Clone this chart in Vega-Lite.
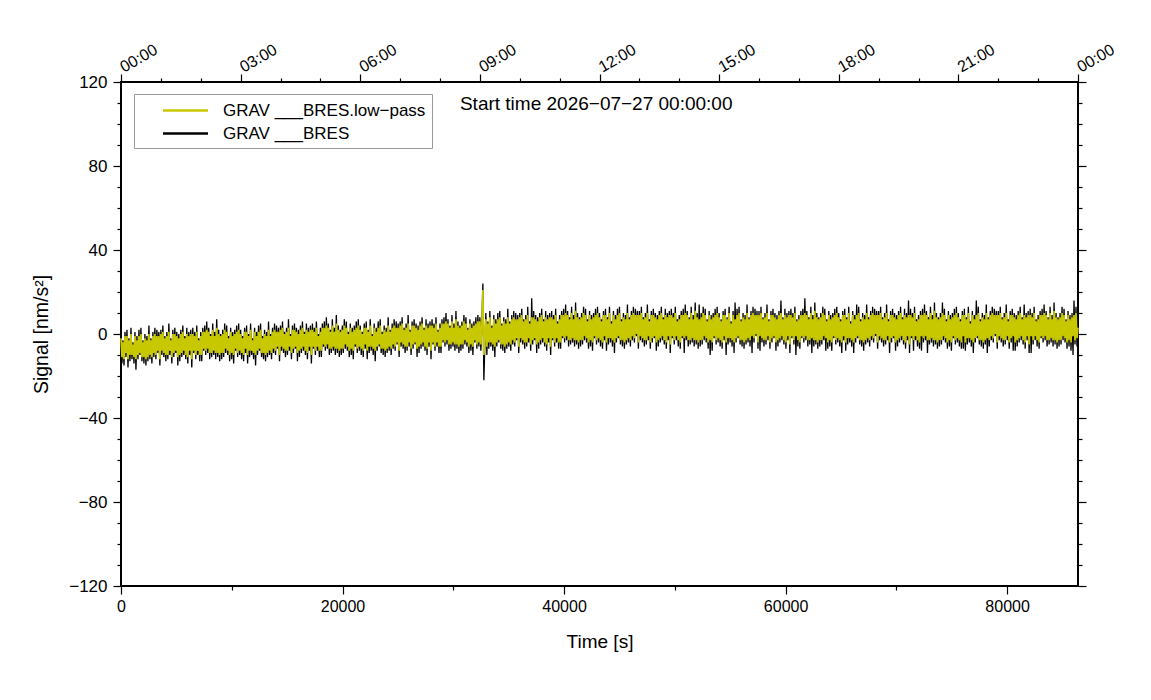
{
  "$schema": "https://vega.github.io/schema/vega-lite/v6.json",
  "width": 957,
  "height": 504,
  "autosize": {"type": "none"},
  "padding": {"left": 121, "top": 82, "right": 73, "bottom": 114},
  "background": "white",
  "config": {
    "font": "Liberation Sans",
    "view": {"stroke": "#000000", "strokeWidth": 2},
    "axis": {
      "grid": false,
      "domain": false,
      "tickColor": "#000000",
      "tickWidth": 1.2,
      "labelColor": "#000000",
      "titleColor": "#000000",
      "labelFont": "Liberation Sans",
      "titleFont": "Liberation Sans",
      "labelFontSize": 16,
      "titleFontSize": 19,
      "titleFontWeight": "normal"
    }
  },
  "datasets": {
    "grav": [
{"t":0,"raw":0,"lp":-2},{"t":90,"raw":-14,"lp":-11},{"t":180,"raw":-3,"lp":-4},{"t":270,"raw":-15,"lp":-12},{"t":360,"raw":1,"lp":-1},{"t":450,"raw":-11,"lp":-9},{"t":540,"raw":2,"lp":-1},{"t":630,"raw":-16,"lp":-12},{"t":720,"raw":-2,"lp":-3},{"t":810,"raw":-13,"lp":-10},{"t":900,"raw":3,"lp":0},{"t":990,"raw":-12,"lp":-10},{"t":1080,"raw":-4,"lp":-5},{"t":1170,"raw":-14,"lp":-11},{"t":1260,"raw":1,"lp":-1},{"t":1350,"raw":-17,"lp":-12},{"t":1440,"raw":-1,"lp":-3},{"t":1530,"raw":-12,"lp":-10},{"t":1620,"raw":2,"lp":-1},{"t":1710,"raw":-10,"lp":-9},{"t":1800,"raw":3,"lp":0},{"t":1890,"raw":-13,"lp":-11},{"t":1980,"raw":-3,"lp":-4},{"t":2070,"raw":-14,"lp":-11},{"t":2160,"raw":0,"lp":-2},{"t":2250,"raw":-15,"lp":-12},{"t":2340,"raw":-1,"lp":-3},{"t":2430,"raw":-13,"lp":-11},{"t":2520,"raw":4,"lp":0},{"t":2610,"raw":-12,"lp":-10},{"t":2700,"raw":-2,"lp":-3},{"t":2790,"raw":-14,"lp":-11},{"t":2880,"raw":1,"lp":-1},{"t":2970,"raw":-11,"lp":-9},{"t":3060,"raw":3,"lp":0},{"t":3150,"raw":-12,"lp":-10},{"t":3240,"raw":2,"lp":-1},{"t":3330,"raw":-9,"lp":-8},{"t":3420,"raw":1,"lp":-1},{"t":3510,"raw":-15,"lp":-12},
{"t":3600,"raw":2,"lp":0},{"t":3690,"raw":-10,"lp":-8},{"t":3780,"raw":4,"lp":1},{"t":3870,"raw":-11,"lp":-9},{"t":3960,"raw":-1,"lp":-2},{"t":4050,"raw":-13,"lp":-10},{"t":4140,"raw":1,"lp":-1},{"t":4230,"raw":-12,"lp":-10},{"t":4320,"raw":5,"lp":1},{"t":4410,"raw":-10,"lp":-8},{"t":4500,"raw":-2,"lp":-3},{"t":4590,"raw":-14,"lp":-11},{"t":4680,"raw":2,"lp":0},{"t":4770,"raw":-11,"lp":-9},{"t":4860,"raw":3,"lp":0},{"t":4950,"raw":-9,"lp":-8},{"t":5040,"raw":1,"lp":-1},{"t":5130,"raw":-15,"lp":-11},{"t":5220,"raw":0,"lp":-2},{"t":5310,"raw":-13,"lp":-10},{"t":5400,"raw":2,"lp":0},{"t":5490,"raw":-11,"lp":-9},{"t":5580,"raw":4,"lp":1},{"t":5670,"raw":-10,"lp":-8},{"t":5760,"raw":-1,"lp":-2},{"t":5850,"raw":-12,"lp":-10},{"t":5940,"raw":3,"lp":0},{"t":6030,"raw":-14,"lp":-11},{"t":6120,"raw":1,"lp":-1},{"t":6210,"raw":-10,"lp":-8},{"t":6300,"raw":2,"lp":0},{"t":6390,"raw":-16,"lp":-12},{"t":6480,"raw":3,"lp":0},{"t":6570,"raw":-9,"lp":-8},{"t":6660,"raw":1,"lp":-1},{"t":6750,"raw":-12,"lp":-10},{"t":6840,"raw":4,"lp":1},{"t":6930,"raw":-10,"lp":-8},{"t":7020,"raw":-2,"lp":-3},{"t":7110,"raw":-13,"lp":-10},
{"t":7200,"raw":1,"lp":-1},{"t":7290,"raw":-13,"lp":-10},{"t":7380,"raw":3,"lp":1},{"t":7470,"raw":-8,"lp":-7},{"t":7560,"raw":4,"lp":1},{"t":7650,"raw":-10,"lp":-8},{"t":7740,"raw":6,"lp":2},{"t":7830,"raw":-9,"lp":-7},{"t":7920,"raw":3,"lp":1},{"t":8010,"raw":-12,"lp":-9},{"t":8100,"raw":0,"lp":-1},{"t":8190,"raw":-11,"lp":-9},{"t":8280,"raw":5,"lp":2},{"t":8370,"raw":-10,"lp":-8},{"t":8460,"raw":1,"lp":-1},{"t":8550,"raw":-12,"lp":-9},{"t":8640,"raw":7,"lp":3},{"t":8730,"raw":-11,"lp":-9},{"t":8820,"raw":2,"lp":0},{"t":8910,"raw":-13,"lp":-10},{"t":9000,"raw":0,"lp":-1},{"t":9090,"raw":-12,"lp":-9},{"t":9180,"raw":2,"lp":0},{"t":9270,"raw":-11,"lp":-9},{"t":9360,"raw":5,"lp":2},{"t":9450,"raw":-9,"lp":-7},{"t":9540,"raw":4,"lp":1},{"t":9630,"raw":-10,"lp":-8},{"t":9720,"raw":-1,"lp":-2},{"t":9810,"raw":-13,"lp":-10},{"t":9900,"raw":3,"lp":1},{"t":9990,"raw":-12,"lp":-9},{"t":10080,"raw":1,"lp":-1},{"t":10170,"raw":-14,"lp":-10},{"t":10260,"raw":2,"lp":0},{"t":10350,"raw":-8,"lp":-7},{"t":10440,"raw":4,"lp":1},{"t":10530,"raw":-11,"lp":-9},{"t":10620,"raw":5,"lp":2},{"t":10710,"raw":-10,"lp":-8},
{"t":10800,"raw":2,"lp":0},{"t":10890,"raw":-12,"lp":-9},{"t":10980,"raw":-1,"lp":-2},{"t":11070,"raw":-13,"lp":-10},{"t":11160,"raw":3,"lp":1},{"t":11250,"raw":-9,"lp":-7},{"t":11340,"raw":4,"lp":1},{"t":11430,"raw":-14,"lp":-10},{"t":11520,"raw":0,"lp":-1},{"t":11610,"raw":-11,"lp":-8},{"t":11700,"raw":5,"lp":2},{"t":11790,"raw":-10,"lp":-8},{"t":11880,"raw":-2,"lp":-3},{"t":11970,"raw":-12,"lp":-9},{"t":12060,"raw":3,"lp":1},{"t":12150,"raw":-15,"lp":-10},{"t":12240,"raw":1,"lp":-1},{"t":12330,"raw":-10,"lp":-8},{"t":12420,"raw":4,"lp":1},{"t":12510,"raw":-8,"lp":-7},{"t":12600,"raw":5,"lp":2},{"t":12690,"raw":-11,"lp":-9},{"t":12780,"raw":-1,"lp":-2},{"t":12870,"raw":-12,"lp":-9},{"t":12960,"raw":2,"lp":0},{"t":13050,"raw":-13,"lp":-10},{"t":13140,"raw":1,"lp":-1},{"t":13230,"raw":-11,"lp":-9},{"t":13320,"raw":6,"lp":2},{"t":13410,"raw":-10,"lp":-8},{"t":13500,"raw":0,"lp":-1},{"t":13590,"raw":-12,"lp":-9},{"t":13680,"raw":3,"lp":1},{"t":13770,"raw":-9,"lp":-7},{"t":13860,"raw":5,"lp":2},{"t":13950,"raw":-10,"lp":-8},{"t":14040,"raw":4,"lp":1},{"t":14130,"raw":-7,"lp":-6},{"t":14220,"raw":3,"lp":1},{"t":14310,"raw":-13,"lp":-10},
{"t":14400,"raw":4,"lp":2},{"t":14490,"raw":-8,"lp":-6},{"t":14580,"raw":6,"lp":3},{"t":14670,"raw":-9,"lp":-7},{"t":14760,"raw":1,"lp":0},{"t":14850,"raw":-11,"lp":-8},{"t":14940,"raw":3,"lp":1},{"t":15030,"raw":-10,"lp":-8},{"t":15120,"raw":7,"lp":3},{"t":15210,"raw":-8,"lp":-6},{"t":15300,"raw":0,"lp":-1},{"t":15390,"raw":-12,"lp":-9},{"t":15480,"raw":4,"lp":2},{"t":15570,"raw":-9,"lp":-7},{"t":15660,"raw":5,"lp":2},{"t":15750,"raw":-7,"lp":-6},{"t":15840,"raw":3,"lp":1},{"t":15930,"raw":-13,"lp":-9},{"t":16020,"raw":2,"lp":0},{"t":16110,"raw":-11,"lp":-8},{"t":16200,"raw":4,"lp":2},{"t":16290,"raw":-9,"lp":-7},{"t":16380,"raw":6,"lp":3},{"t":16470,"raw":-8,"lp":-6},{"t":16560,"raw":1,"lp":0},{"t":16650,"raw":-10,"lp":-8},{"t":16740,"raw":5,"lp":2},{"t":16830,"raw":-12,"lp":-9},{"t":16920,"raw":3,"lp":1},{"t":17010,"raw":-8,"lp":-6},{"t":17100,"raw":4,"lp":2},{"t":17190,"raw":-14,"lp":-10},{"t":17280,"raw":5,"lp":2},{"t":17370,"raw":-7,"lp":-6},{"t":17460,"raw":3,"lp":1},{"t":17550,"raw":-10,"lp":-8},{"t":17640,"raw":6,"lp":3},{"t":17730,"raw":-8,"lp":-6},{"t":17820,"raw":0,"lp":-1},{"t":17910,"raw":-11,"lp":-8},
{"t":18000,"raw":3,"lp":1},{"t":18090,"raw":-11,"lp":-8},{"t":18180,"raw":5,"lp":3},{"t":18270,"raw":-6,"lp":-5},{"t":18360,"raw":6,"lp":3},{"t":18450,"raw":-8,"lp":-6},{"t":18540,"raw":8,"lp":4},{"t":18630,"raw":-7,"lp":-5},{"t":18720,"raw":5,"lp":3},{"t":18810,"raw":-10,"lp":-7},{"t":18900,"raw":2,"lp":1},{"t":18990,"raw":-9,"lp":-7},{"t":19080,"raw":7,"lp":4},{"t":19170,"raw":-8,"lp":-6},{"t":19260,"raw":3,"lp":1},{"t":19350,"raw":-10,"lp":-7},{"t":19440,"raw":9,"lp":5},{"t":19530,"raw":-9,"lp":-7},{"t":19620,"raw":4,"lp":2},{"t":19710,"raw":-11,"lp":-8},{"t":19800,"raw":2,"lp":1},{"t":19890,"raw":-10,"lp":-7},{"t":19980,"raw":4,"lp":2},{"t":20070,"raw":-9,"lp":-7},{"t":20160,"raw":7,"lp":4},{"t":20250,"raw":-7,"lp":-5},{"t":20340,"raw":6,"lp":3},{"t":20430,"raw":-8,"lp":-6},{"t":20520,"raw":1,"lp":0},{"t":20610,"raw":-11,"lp":-8},{"t":20700,"raw":5,"lp":3},{"t":20790,"raw":-10,"lp":-7},{"t":20880,"raw":3,"lp":1},{"t":20970,"raw":-12,"lp":-8},{"t":21060,"raw":4,"lp":2},{"t":21150,"raw":-6,"lp":-5},{"t":21240,"raw":6,"lp":3},{"t":21330,"raw":-9,"lp":-7},{"t":21420,"raw":7,"lp":4},{"t":21510,"raw":-8,"lp":-6},
{"t":21600,"raw":4,"lp":2},{"t":21690,"raw":-10,"lp":-7},{"t":21780,"raw":1,"lp":0},{"t":21870,"raw":-11,"lp":-8},{"t":21960,"raw":5,"lp":3},{"t":22050,"raw":-7,"lp":-5},{"t":22140,"raw":6,"lp":3},{"t":22230,"raw":-12,"lp":-8},{"t":22320,"raw":2,"lp":1},{"t":22410,"raw":-9,"lp":-6},{"t":22500,"raw":7,"lp":4},{"t":22590,"raw":-8,"lp":-6},{"t":22680,"raw":0,"lp":-1},{"t":22770,"raw":-10,"lp":-7},{"t":22860,"raw":5,"lp":3},{"t":22950,"raw":-13,"lp":-8},{"t":23040,"raw":3,"lp":1},{"t":23130,"raw":-8,"lp":-6},{"t":23220,"raw":6,"lp":3},{"t":23310,"raw":-6,"lp":-5},{"t":23400,"raw":7,"lp":4},{"t":23490,"raw":-9,"lp":-7},{"t":23580,"raw":1,"lp":0},{"t":23670,"raw":-10,"lp":-7},{"t":23760,"raw":4,"lp":2},{"t":23850,"raw":-11,"lp":-8},{"t":23940,"raw":3,"lp":1},{"t":24030,"raw":-9,"lp":-7},{"t":24120,"raw":8,"lp":4},{"t":24210,"raw":-8,"lp":-6},{"t":24300,"raw":2,"lp":1},{"t":24390,"raw":-10,"lp":-7},{"t":24480,"raw":5,"lp":3},{"t":24570,"raw":-7,"lp":-5},{"t":24660,"raw":7,"lp":4},{"t":24750,"raw":-8,"lp":-6},{"t":24840,"raw":6,"lp":3},{"t":24930,"raw":-5,"lp":-4},{"t":25020,"raw":5,"lp":3},{"t":25110,"raw":-11,"lp":-8},
{"t":25200,"raw":6,"lp":4},{"t":25290,"raw":-6,"lp":-4},{"t":25380,"raw":8,"lp":5},{"t":25470,"raw":-7,"lp":-5},{"t":25560,"raw":3,"lp":2},{"t":25650,"raw":-9,"lp":-6},{"t":25740,"raw":5,"lp":3},{"t":25830,"raw":-8,"lp":-6},{"t":25920,"raw":9,"lp":5},{"t":26010,"raw":-6,"lp":-4},{"t":26100,"raw":2,"lp":1},{"t":26190,"raw":-10,"lp":-7},{"t":26280,"raw":6,"lp":4},{"t":26370,"raw":-7,"lp":-5},{"t":26460,"raw":7,"lp":4},{"t":26550,"raw":-5,"lp":-4},{"t":26640,"raw":5,"lp":3},{"t":26730,"raw":-11,"lp":-7},{"t":26820,"raw":4,"lp":2},{"t":26910,"raw":-9,"lp":-6},{"t":27000,"raw":6,"lp":4},{"t":27090,"raw":-7,"lp":-5},{"t":27180,"raw":8,"lp":5},{"t":27270,"raw":-6,"lp":-4},{"t":27360,"raw":3,"lp":2},{"t":27450,"raw":-8,"lp":-6},{"t":27540,"raw":7,"lp":4},{"t":27630,"raw":-10,"lp":-7},{"t":27720,"raw":5,"lp":3},{"t":27810,"raw":-6,"lp":-4},{"t":27900,"raw":6,"lp":4},{"t":27990,"raw":-12,"lp":-8},{"t":28080,"raw":7,"lp":4},{"t":28170,"raw":-5,"lp":-4},{"t":28260,"raw":5,"lp":3},{"t":28350,"raw":-8,"lp":-6},{"t":28440,"raw":8,"lp":5},{"t":28530,"raw":-6,"lp":-4},{"t":28620,"raw":2,"lp":1},{"t":28710,"raw":-9,"lp":-6},
{"t":28800,"raw":5,"lp":3},{"t":28890,"raw":-9,"lp":-6},{"t":28980,"raw":7,"lp":5},{"t":29070,"raw":-4,"lp":-3},{"t":29160,"raw":8,"lp":5},{"t":29250,"raw":-6,"lp":-4},{"t":29340,"raw":10,"lp":6},{"t":29430,"raw":-5,"lp":-3},{"t":29520,"raw":7,"lp":5},{"t":29610,"raw":-8,"lp":-5},{"t":29700,"raw":4,"lp":3},{"t":29790,"raw":-7,"lp":-5},{"t":29880,"raw":9,"lp":6},{"t":29970,"raw":-6,"lp":-4},{"t":30060,"raw":5,"lp":3},{"t":30150,"raw":-8,"lp":-5},{"t":30240,"raw":11,"lp":7},{"t":30330,"raw":-7,"lp":-5},{"t":30420,"raw":6,"lp":4},{"t":30510,"raw":-9,"lp":-6},{"t":30600,"raw":4,"lp":3},{"t":30690,"raw":-8,"lp":-5},{"t":30780,"raw":6,"lp":4},{"t":30870,"raw":-7,"lp":-5},{"t":30960,"raw":9,"lp":6},{"t":31050,"raw":-5,"lp":-3},{"t":31140,"raw":8,"lp":5},{"t":31230,"raw":-6,"lp":-4},{"t":31320,"raw":3,"lp":2},{"t":31410,"raw":-9,"lp":-6},{"t":31500,"raw":7,"lp":5},{"t":31590,"raw":-8,"lp":-5},{"t":31680,"raw":5,"lp":3},{"t":31770,"raw":-10,"lp":-6},{"t":31860,"raw":6,"lp":4},{"t":31950,"raw":-4,"lp":-3},{"t":32040,"raw":8,"lp":5},{"t":32130,"raw":-7,"lp":-5},{"t":32220,"raw":9,"lp":6},{"t":32310,"raw":-6,"lp":-4},
{"t":32400,"raw":8,"lp":6},{"t":32490,"raw":-8,"lp":-5},{"t":32580,"raw":5,"lp":4},{"t":32670,"raw":24,"lp":21},{"t":32760,"raw":-22,"lp":-10},{"t":32850,"raw":-5,"lp":-3},{"t":32940,"raw":10,"lp":7},{"t":33030,"raw":-10,"lp":-6},{"t":33120,"raw":6,"lp":5},{"t":33210,"raw":-7,"lp":-4},{"t":33300,"raw":11,"lp":8},{"t":33390,"raw":-6,"lp":-4},{"t":33480,"raw":4,"lp":3},{"t":33570,"raw":-8,"lp":-5},{"t":33660,"raw":9,"lp":7},{"t":33750,"raw":-11,"lp":-6},{"t":33840,"raw":7,"lp":5},{"t":33930,"raw":-6,"lp":-4},{"t":34020,"raw":10,"lp":7},{"t":34110,"raw":-4,"lp":-3},{"t":34200,"raw":11,"lp":8},{"t":34290,"raw":-7,"lp":-5},{"t":34380,"raw":5,"lp":4},{"t":34470,"raw":-8,"lp":-5},{"t":34560,"raw":8,"lp":6},{"t":34650,"raw":-9,"lp":-6},{"t":34740,"raw":7,"lp":5},{"t":34830,"raw":-7,"lp":-5},{"t":34920,"raw":12,"lp":8},{"t":35010,"raw":-6,"lp":-4},{"t":35100,"raw":6,"lp":5},{"t":35190,"raw":-8,"lp":-5},{"t":35280,"raw":9,"lp":7},{"t":35370,"raw":-5,"lp":-3},{"t":35460,"raw":11,"lp":8},{"t":35550,"raw":-6,"lp":-4},{"t":35640,"raw":10,"lp":7},{"t":35730,"raw":-3,"lp":-2},{"t":35820,"raw":9,"lp":7},{"t":35910,"raw":-9,"lp":-6},
{"t":36000,"raw":10,"lp":8},{"t":36090,"raw":-4,"lp":-2},{"t":36180,"raw":12,"lp":9},{"t":36270,"raw":-5,"lp":-3},{"t":36360,"raw":7,"lp":6},{"t":36450,"raw":-7,"lp":-4},{"t":36540,"raw":9,"lp":7},{"t":36630,"raw":-6,"lp":-4},{"t":36720,"raw":13,"lp":9},{"t":36810,"raw":-4,"lp":-2},{"t":36900,"raw":6,"lp":5},{"t":36990,"raw":-8,"lp":-5},{"t":37080,"raw":17,"lp":8},{"t":37170,"raw":-5,"lp":-3},{"t":37260,"raw":11,"lp":8},{"t":37350,"raw":-3,"lp":-2},{"t":37440,"raw":9,"lp":7},{"t":37530,"raw":-9,"lp":-5},{"t":37620,"raw":8,"lp":6},{"t":37710,"raw":-7,"lp":-4},{"t":37800,"raw":10,"lp":8},{"t":37890,"raw":-5,"lp":-3},{"t":37980,"raw":12,"lp":9},{"t":38070,"raw":-4,"lp":-2},{"t":38160,"raw":7,"lp":6},{"t":38250,"raw":-6,"lp":-4},{"t":38340,"raw":11,"lp":8},{"t":38430,"raw":-8,"lp":-5},{"t":38520,"raw":9,"lp":7},{"t":38610,"raw":-4,"lp":-2},{"t":38700,"raw":10,"lp":8},{"t":38790,"raw":-10,"lp":-6},{"t":38880,"raw":11,"lp":8},{"t":38970,"raw":-3,"lp":-2},{"t":39060,"raw":9,"lp":7},{"t":39150,"raw":-6,"lp":-4},{"t":39240,"raw":12,"lp":9},{"t":39330,"raw":-4,"lp":-2},{"t":39420,"raw":6,"lp":5},{"t":39510,"raw":-7,"lp":-4},
{"t":39600,"raw":9,"lp":7},{"t":39690,"raw":-7,"lp":-4},{"t":39780,"raw":11,"lp":9},{"t":39870,"raw":-2,"lp":-1},{"t":39960,"raw":12,"lp":9},{"t":40050,"raw":-4,"lp":-2},{"t":40140,"raw":14,"lp":10},{"t":40230,"raw":-3,"lp":-1},{"t":40320,"raw":11,"lp":9},{"t":40410,"raw":-6,"lp":-3},{"t":40500,"raw":8,"lp":7},{"t":40590,"raw":-5,"lp":-3},{"t":40680,"raw":13,"lp":10},{"t":40770,"raw":-4,"lp":-2},{"t":40860,"raw":9,"lp":7},{"t":40950,"raw":-6,"lp":-3},{"t":41040,"raw":15,"lp":11},{"t":41130,"raw":-5,"lp":-3},{"t":41220,"raw":10,"lp":8},{"t":41310,"raw":-7,"lp":-4},{"t":41400,"raw":8,"lp":7},{"t":41490,"raw":-6,"lp":-3},{"t":41580,"raw":10,"lp":8},{"t":41670,"raw":-5,"lp":-3},{"t":41760,"raw":13,"lp":10},{"t":41850,"raw":-3,"lp":-1},{"t":41940,"raw":12,"lp":9},{"t":42030,"raw":-4,"lp":-2},{"t":42120,"raw":7,"lp":6},{"t":42210,"raw":-7,"lp":-4},{"t":42300,"raw":11,"lp":9},{"t":42390,"raw":-6,"lp":-3},{"t":42480,"raw":9,"lp":7},{"t":42570,"raw":-8,"lp":-4},{"t":42660,"raw":10,"lp":8},{"t":42750,"raw":-2,"lp":-1},{"t":42840,"raw":12,"lp":9},{"t":42930,"raw":-5,"lp":-3},{"t":43020,"raw":13,"lp":10},{"t":43110,"raw":-4,"lp":-2},
{"t":43200,"raw":10,"lp":8},{"t":43290,"raw":-6,"lp":-3},{"t":43380,"raw":7,"lp":6},{"t":43470,"raw":-7,"lp":-4},{"t":43560,"raw":11,"lp":9},{"t":43650,"raw":-3,"lp":-1},{"t":43740,"raw":12,"lp":9},{"t":43830,"raw":-8,"lp":-4},{"t":43920,"raw":8,"lp":7},{"t":44010,"raw":-5,"lp":-2},{"t":44100,"raw":13,"lp":10},{"t":44190,"raw":-4,"lp":-2},{"t":44280,"raw":6,"lp":5},{"t":44370,"raw":-6,"lp":-3},{"t":44460,"raw":11,"lp":9},{"t":44550,"raw":-9,"lp":-4},{"t":44640,"raw":9,"lp":7},{"t":44730,"raw":-4,"lp":-2},{"t":44820,"raw":12,"lp":9},{"t":44910,"raw":-2,"lp":-1},{"t":45000,"raw":13,"lp":10},{"t":45090,"raw":-5,"lp":-3},{"t":45180,"raw":7,"lp":6},{"t":45270,"raw":-6,"lp":-3},{"t":45360,"raw":10,"lp":8},{"t":45450,"raw":-7,"lp":-4},{"t":45540,"raw":9,"lp":7},{"t":45630,"raw":-5,"lp":-3},{"t":45720,"raw":14,"lp":10},{"t":45810,"raw":-4,"lp":-2},{"t":45900,"raw":8,"lp":7},{"t":45990,"raw":-6,"lp":-3},{"t":46080,"raw":11,"lp":9},{"t":46170,"raw":-3,"lp":-1},{"t":46260,"raw":13,"lp":10},{"t":46350,"raw":-4,"lp":-2},{"t":46440,"raw":12,"lp":9},{"t":46530,"raw":-1,"lp":0},{"t":46620,"raw":11,"lp":9},{"t":46710,"raw":-7,"lp":-4},
{"t":46800,"raw":11,"lp":9},{"t":46890,"raw":-3,"lp":-1},{"t":46980,"raw":13,"lp":10},{"t":47070,"raw":-4,"lp":-2},{"t":47160,"raw":8,"lp":7},{"t":47250,"raw":-6,"lp":-3},{"t":47340,"raw":10,"lp":8},{"t":47430,"raw":-5,"lp":-3},{"t":47520,"raw":14,"lp":10},{"t":47610,"raw":-3,"lp":-1},{"t":47700,"raw":7,"lp":6},{"t":47790,"raw":-7,"lp":-4},{"t":47880,"raw":11,"lp":9},{"t":47970,"raw":-4,"lp":-2},{"t":48060,"raw":12,"lp":9},{"t":48150,"raw":-2,"lp":-1},{"t":48240,"raw":10,"lp":8},{"t":48330,"raw":-8,"lp":-4},{"t":48420,"raw":9,"lp":7},{"t":48510,"raw":-6,"lp":-3},{"t":48600,"raw":11,"lp":9},{"t":48690,"raw":-4,"lp":-2},{"t":48780,"raw":13,"lp":10},{"t":48870,"raw":-3,"lp":-1},{"t":48960,"raw":8,"lp":7},{"t":49050,"raw":-5,"lp":-3},{"t":49140,"raw":12,"lp":9},{"t":49230,"raw":-7,"lp":-4},{"t":49320,"raw":10,"lp":8},{"t":49410,"raw":-3,"lp":-1},{"t":49500,"raw":11,"lp":9},{"t":49590,"raw":-9,"lp":-5},{"t":49680,"raw":12,"lp":9},{"t":49770,"raw":-2,"lp":-1},{"t":49860,"raw":10,"lp":8},{"t":49950,"raw":-5,"lp":-3},{"t":50040,"raw":13,"lp":10},{"t":50130,"raw":-3,"lp":-1},{"t":50220,"raw":7,"lp":6},{"t":50310,"raw":-6,"lp":-3},
{"t":50400,"raw":9,"lp":7},{"t":50490,"raw":-7,"lp":-4},{"t":50580,"raw":11,"lp":9},{"t":50670,"raw":-2,"lp":-1},{"t":50760,"raw":12,"lp":9},{"t":50850,"raw":-9,"lp":-2},{"t":50940,"raw":14,"lp":10},{"t":51030,"raw":-3,"lp":-1},{"t":51120,"raw":11,"lp":9},{"t":51210,"raw":-6,"lp":-3},{"t":51300,"raw":8,"lp":7},{"t":51390,"raw":-5,"lp":-3},{"t":51480,"raw":13,"lp":10},{"t":51570,"raw":-4,"lp":-2},{"t":51660,"raw":9,"lp":7},{"t":51750,"raw":-6,"lp":-3},{"t":51840,"raw":15,"lp":11},{"t":51930,"raw":-5,"lp":-3},{"t":52020,"raw":10,"lp":8},{"t":52110,"raw":-7,"lp":-4},{"t":52200,"raw":14,"lp":7},{"t":52290,"raw":-6,"lp":-3},{"t":52380,"raw":10,"lp":8},{"t":52470,"raw":-5,"lp":-3},{"t":52560,"raw":13,"lp":10},{"t":52650,"raw":-3,"lp":-1},{"t":52740,"raw":12,"lp":9},{"t":52830,"raw":-4,"lp":-2},{"t":52920,"raw":7,"lp":6},{"t":53010,"raw":-7,"lp":-4},{"t":53100,"raw":11,"lp":9},{"t":53190,"raw":-10,"lp":-3},{"t":53280,"raw":9,"lp":7},{"t":53370,"raw":-8,"lp":-4},{"t":53460,"raw":10,"lp":8},{"t":53550,"raw":-2,"lp":-1},{"t":53640,"raw":12,"lp":9},{"t":53730,"raw":-5,"lp":-3},{"t":53820,"raw":13,"lp":10},{"t":53910,"raw":-4,"lp":-2},
{"t":54000,"raw":10,"lp":8},{"t":54090,"raw":-6,"lp":-3},{"t":54180,"raw":7,"lp":6},{"t":54270,"raw":-7,"lp":-4},{"t":54360,"raw":11,"lp":9},{"t":54450,"raw":-3,"lp":-1},{"t":54540,"raw":12,"lp":9},{"t":54630,"raw":-10,"lp":-4},{"t":54720,"raw":8,"lp":7},{"t":54810,"raw":-5,"lp":-2},{"t":54900,"raw":13,"lp":10},{"t":54990,"raw":-4,"lp":-2},{"t":55080,"raw":6,"lp":5},{"t":55170,"raw":-6,"lp":-3},{"t":55260,"raw":11,"lp":9},{"t":55350,"raw":-9,"lp":-4},{"t":55440,"raw":15,"lp":7},{"t":55530,"raw":-4,"lp":-2},{"t":55620,"raw":12,"lp":9},{"t":55710,"raw":-2,"lp":-1},{"t":55800,"raw":13,"lp":10},{"t":55890,"raw":-5,"lp":-3},{"t":55980,"raw":7,"lp":6},{"t":56070,"raw":-6,"lp":-3},{"t":56160,"raw":10,"lp":8},{"t":56250,"raw":-7,"lp":-4},{"t":56340,"raw":9,"lp":7},{"t":56430,"raw":-5,"lp":-3},{"t":56520,"raw":14,"lp":10},{"t":56610,"raw":-4,"lp":-2},{"t":56700,"raw":8,"lp":7},{"t":56790,"raw":-6,"lp":-3},{"t":56880,"raw":11,"lp":9},{"t":56970,"raw":-9,"lp":-1},{"t":57060,"raw":13,"lp":10},{"t":57150,"raw":-4,"lp":-2},{"t":57240,"raw":12,"lp":9},{"t":57330,"raw":-1,"lp":0},{"t":57420,"raw":11,"lp":9},{"t":57510,"raw":-7,"lp":-4},
{"t":57600,"raw":11,"lp":9},{"t":57690,"raw":-8,"lp":-1},{"t":57780,"raw":13,"lp":10},{"t":57870,"raw":-4,"lp":-2},{"t":57960,"raw":8,"lp":7},{"t":58050,"raw":-6,"lp":-3},{"t":58140,"raw":10,"lp":8},{"t":58230,"raw":-5,"lp":-3},{"t":58320,"raw":14,"lp":10},{"t":58410,"raw":-3,"lp":-1},{"t":58500,"raw":7,"lp":6},{"t":58590,"raw":-7,"lp":-4},{"t":58680,"raw":11,"lp":9},{"t":58770,"raw":-4,"lp":-2},{"t":58860,"raw":12,"lp":9},{"t":58950,"raw":-2,"lp":-1},{"t":59040,"raw":10,"lp":8},{"t":59130,"raw":-8,"lp":-4},{"t":59220,"raw":9,"lp":7},{"t":59310,"raw":-6,"lp":-3},{"t":59400,"raw":11,"lp":9},{"t":59490,"raw":-4,"lp":-2},{"t":59580,"raw":16,"lp":10},{"t":59670,"raw":-3,"lp":-1},{"t":59760,"raw":8,"lp":7},{"t":59850,"raw":-5,"lp":-3},{"t":59940,"raw":12,"lp":9},{"t":60030,"raw":-7,"lp":-4},{"t":60120,"raw":10,"lp":8},{"t":60210,"raw":-3,"lp":-1},{"t":60300,"raw":11,"lp":9},{"t":60390,"raw":-9,"lp":-5},{"t":60480,"raw":12,"lp":9},{"t":60570,"raw":-2,"lp":-1},{"t":60660,"raw":10,"lp":8},{"t":60750,"raw":-5,"lp":-3},{"t":60840,"raw":13,"lp":10},{"t":60930,"raw":-10,"lp":-1},{"t":61020,"raw":7,"lp":6},{"t":61110,"raw":-6,"lp":-3},
{"t":61200,"raw":9,"lp":7},{"t":61290,"raw":-7,"lp":-4},{"t":61380,"raw":11,"lp":9},{"t":61470,"raw":-2,"lp":-1},{"t":61560,"raw":12,"lp":9},{"t":61650,"raw":-4,"lp":-2},{"t":61740,"raw":17,"lp":10},{"t":61830,"raw":-3,"lp":-1},{"t":61920,"raw":11,"lp":9},{"t":62010,"raw":-6,"lp":-3},{"t":62100,"raw":8,"lp":7},{"t":62190,"raw":-5,"lp":-3},{"t":62280,"raw":13,"lp":10},{"t":62370,"raw":-9,"lp":-2},{"t":62460,"raw":9,"lp":7},{"t":62550,"raw":-6,"lp":-3},{"t":62640,"raw":15,"lp":11},{"t":62730,"raw":-5,"lp":-3},{"t":62820,"raw":10,"lp":8},{"t":62910,"raw":-7,"lp":-4},{"t":63000,"raw":8,"lp":7},{"t":63090,"raw":-6,"lp":-3},{"t":63180,"raw":10,"lp":8},{"t":63270,"raw":-5,"lp":-3},{"t":63360,"raw":13,"lp":10},{"t":63450,"raw":-3,"lp":-1},{"t":63540,"raw":12,"lp":9},{"t":63630,"raw":-8,"lp":-2},{"t":63720,"raw":7,"lp":6},{"t":63810,"raw":-7,"lp":-4},{"t":63900,"raw":11,"lp":9},{"t":63990,"raw":-6,"lp":-3},{"t":64080,"raw":9,"lp":7},{"t":64170,"raw":-8,"lp":-4},{"t":64260,"raw":10,"lp":8},{"t":64350,"raw":-2,"lp":-1},{"t":64440,"raw":12,"lp":9},{"t":64530,"raw":-5,"lp":-3},{"t":64620,"raw":13,"lp":10},{"t":64710,"raw":-4,"lp":-2},
{"t":64800,"raw":10,"lp":8},{"t":64890,"raw":-6,"lp":-3},{"t":64980,"raw":7,"lp":6},{"t":65070,"raw":-9,"lp":-4},{"t":65160,"raw":11,"lp":9},{"t":65250,"raw":-3,"lp":-1},{"t":65340,"raw":12,"lp":9},{"t":65430,"raw":-8,"lp":-4},{"t":65520,"raw":8,"lp":7},{"t":65610,"raw":-5,"lp":-2},{"t":65700,"raw":13,"lp":10},{"t":65790,"raw":-4,"lp":-2},{"t":65880,"raw":6,"lp":5},{"t":65970,"raw":-6,"lp":-3},{"t":66060,"raw":11,"lp":9},{"t":66150,"raw":-9,"lp":-4},{"t":66240,"raw":9,"lp":7},{"t":66330,"raw":-4,"lp":-2},{"t":66420,"raw":14,"lp":9},{"t":66510,"raw":-2,"lp":-1},{"t":66600,"raw":13,"lp":10},{"t":66690,"raw":-5,"lp":-3},{"t":66780,"raw":7,"lp":6},{"t":66870,"raw":-6,"lp":-3},{"t":66960,"raw":10,"lp":8},{"t":67050,"raw":-8,"lp":-4},{"t":67140,"raw":9,"lp":7},{"t":67230,"raw":-5,"lp":-3},{"t":67320,"raw":14,"lp":10},{"t":67410,"raw":-4,"lp":-2},{"t":67500,"raw":8,"lp":7},{"t":67590,"raw":-6,"lp":-3},{"t":67680,"raw":11,"lp":9},{"t":67770,"raw":-3,"lp":-1},{"t":67860,"raw":13,"lp":10},{"t":67950,"raw":-4,"lp":-2},{"t":68040,"raw":12,"lp":9},{"t":68130,"raw":-1,"lp":0},{"t":68220,"raw":11,"lp":9},{"t":68310,"raw":-7,"lp":-4},
{"t":68400,"raw":11,"lp":9},{"t":68490,"raw":-3,"lp":-1},{"t":68580,"raw":13,"lp":10},{"t":68670,"raw":-4,"lp":-2},{"t":68760,"raw":8,"lp":7},{"t":68850,"raw":-6,"lp":-3},{"t":68940,"raw":10,"lp":8},{"t":69030,"raw":-5,"lp":-3},{"t":69120,"raw":14,"lp":10},{"t":69210,"raw":-3,"lp":-1},{"t":69300,"raw":7,"lp":6},{"t":69390,"raw":-9,"lp":-4},{"t":69480,"raw":11,"lp":9},{"t":69570,"raw":-4,"lp":-2},{"t":69660,"raw":12,"lp":9},{"t":69750,"raw":-2,"lp":-1},{"t":69840,"raw":10,"lp":8},{"t":69930,"raw":-8,"lp":-4},{"t":70020,"raw":9,"lp":7},{"t":70110,"raw":-6,"lp":-3},{"t":70200,"raw":11,"lp":9},{"t":70290,"raw":-4,"lp":-2},{"t":70380,"raw":13,"lp":10},{"t":70470,"raw":-3,"lp":-1},{"t":70560,"raw":8,"lp":7},{"t":70650,"raw":-5,"lp":-3},{"t":70740,"raw":12,"lp":9},{"t":70830,"raw":-7,"lp":-4},{"t":70920,"raw":10,"lp":8},{"t":71010,"raw":-3,"lp":-1},{"t":71100,"raw":16,"lp":9},{"t":71190,"raw":-9,"lp":-5},{"t":71280,"raw":12,"lp":9},{"t":71370,"raw":-2,"lp":-1},{"t":71460,"raw":10,"lp":8},{"t":71550,"raw":-8,"lp":-3},{"t":71640,"raw":13,"lp":10},{"t":71730,"raw":-3,"lp":-1},{"t":71820,"raw":7,"lp":6},{"t":71910,"raw":-6,"lp":-3},
{"t":72000,"raw":9,"lp":7},{"t":72090,"raw":-7,"lp":-4},{"t":72180,"raw":11,"lp":9},{"t":72270,"raw":-8,"lp":-1},{"t":72360,"raw":12,"lp":9},{"t":72450,"raw":-4,"lp":-2},{"t":72540,"raw":14,"lp":10},{"t":72630,"raw":-3,"lp":-1},{"t":72720,"raw":11,"lp":9},{"t":72810,"raw":-9,"lp":-3},{"t":72900,"raw":8,"lp":7},{"t":72990,"raw":-5,"lp":-3},{"t":73080,"raw":13,"lp":10},{"t":73170,"raw":-4,"lp":-2},{"t":73260,"raw":9,"lp":7},{"t":73350,"raw":-6,"lp":-3},{"t":73440,"raw":15,"lp":11},{"t":73530,"raw":-5,"lp":-3},{"t":73620,"raw":10,"lp":8},{"t":73710,"raw":-7,"lp":-4},{"t":73800,"raw":8,"lp":7},{"t":73890,"raw":-6,"lp":-3},{"t":73980,"raw":10,"lp":8},{"t":74070,"raw":-5,"lp":-3},{"t":74160,"raw":15,"lp":10},{"t":74250,"raw":-3,"lp":-1},{"t":74340,"raw":12,"lp":9},{"t":74430,"raw":-4,"lp":-2},{"t":74520,"raw":7,"lp":6},{"t":74610,"raw":-7,"lp":-4},{"t":74700,"raw":11,"lp":9},{"t":74790,"raw":-6,"lp":-3},{"t":74880,"raw":9,"lp":7},{"t":74970,"raw":-8,"lp":-4},{"t":75060,"raw":10,"lp":8},{"t":75150,"raw":-2,"lp":-1},{"t":75240,"raw":12,"lp":9},{"t":75330,"raw":-5,"lp":-3},{"t":75420,"raw":13,"lp":10},{"t":75510,"raw":-4,"lp":-2},
{"t":75600,"raw":10,"lp":8},{"t":75690,"raw":-6,"lp":-3},{"t":75780,"raw":7,"lp":6},{"t":75870,"raw":-7,"lp":-4},{"t":75960,"raw":11,"lp":9},{"t":76050,"raw":-7,"lp":-1},{"t":76140,"raw":12,"lp":9},{"t":76230,"raw":-8,"lp":-4},{"t":76320,"raw":8,"lp":7},{"t":76410,"raw":-5,"lp":-2},{"t":76500,"raw":13,"lp":10},{"t":76590,"raw":-4,"lp":-2},{"t":76680,"raw":6,"lp":5},{"t":76770,"raw":-6,"lp":-3},{"t":76860,"raw":11,"lp":9},{"t":76950,"raw":-9,"lp":-4},{"t":77040,"raw":9,"lp":7},{"t":77130,"raw":-4,"lp":-2},{"t":77220,"raw":16,"lp":9},{"t":77310,"raw":-2,"lp":-1},{"t":77400,"raw":13,"lp":10},{"t":77490,"raw":-5,"lp":-3},{"t":77580,"raw":7,"lp":6},{"t":77670,"raw":-6,"lp":-3},{"t":77760,"raw":10,"lp":8},{"t":77850,"raw":-7,"lp":-4},{"t":77940,"raw":9,"lp":7},{"t":78030,"raw":-5,"lp":-3},{"t":78120,"raw":14,"lp":10},{"t":78210,"raw":-9,"lp":-2},{"t":78300,"raw":8,"lp":7},{"t":78390,"raw":-6,"lp":-3},{"t":78480,"raw":11,"lp":9},{"t":78570,"raw":-3,"lp":-1},{"t":78660,"raw":13,"lp":10},{"t":78750,"raw":-4,"lp":-2},{"t":78840,"raw":12,"lp":9},{"t":78930,"raw":-1,"lp":0},{"t":79020,"raw":11,"lp":9},{"t":79110,"raw":-7,"lp":-4},
{"t":79200,"raw":11,"lp":9},{"t":79290,"raw":-3,"lp":-1},{"t":79380,"raw":13,"lp":10},{"t":79470,"raw":-4,"lp":-2},{"t":79560,"raw":8,"lp":7},{"t":79650,"raw":-6,"lp":-3},{"t":79740,"raw":10,"lp":8},{"t":79830,"raw":-5,"lp":-3},{"t":79920,"raw":14,"lp":10},{"t":80010,"raw":-3,"lp":-1},{"t":80100,"raw":7,"lp":6},{"t":80190,"raw":-7,"lp":-4},{"t":80280,"raw":11,"lp":9},{"t":80370,"raw":-4,"lp":-2},{"t":80460,"raw":12,"lp":9},{"t":80550,"raw":-8,"lp":-1},{"t":80640,"raw":10,"lp":8},{"t":80730,"raw":-8,"lp":-4},{"t":80820,"raw":9,"lp":7},{"t":80910,"raw":-6,"lp":-3},{"t":81000,"raw":11,"lp":9},{"t":81090,"raw":-4,"lp":-2},{"t":81180,"raw":13,"lp":10},{"t":81270,"raw":-3,"lp":-1},{"t":81360,"raw":8,"lp":7},{"t":81450,"raw":-5,"lp":-3},{"t":81540,"raw":14,"lp":9},{"t":81630,"raw":-7,"lp":-4},{"t":81720,"raw":10,"lp":8},{"t":81810,"raw":-3,"lp":-1},{"t":81900,"raw":11,"lp":9},{"t":81990,"raw":-9,"lp":-5},{"t":82080,"raw":12,"lp":9},{"t":82170,"raw":-9,"lp":-1},{"t":82260,"raw":10,"lp":8},{"t":82350,"raw":-5,"lp":-3},{"t":82440,"raw":13,"lp":10},{"t":82530,"raw":-3,"lp":-1},{"t":82620,"raw":7,"lp":6},{"t":82710,"raw":-6,"lp":-3},
{"t":82800,"raw":9,"lp":7},{"t":82890,"raw":-7,"lp":-4},{"t":82980,"raw":11,"lp":9},{"t":83070,"raw":-2,"lp":-1},{"t":83160,"raw":12,"lp":9},{"t":83250,"raw":-4,"lp":-2},{"t":83340,"raw":14,"lp":10},{"t":83430,"raw":-3,"lp":-1},{"t":83520,"raw":11,"lp":9},{"t":83610,"raw":-6,"lp":-3},{"t":83700,"raw":8,"lp":7},{"t":83790,"raw":-5,"lp":-3},{"t":83880,"raw":13,"lp":10},{"t":83970,"raw":-4,"lp":-2},{"t":84060,"raw":9,"lp":7},{"t":84150,"raw":-6,"lp":-3},{"t":84240,"raw":15,"lp":11},{"t":84330,"raw":-5,"lp":-3},{"t":84420,"raw":10,"lp":8},{"t":84510,"raw":-7,"lp":-4},{"t":84600,"raw":8,"lp":7},{"t":84690,"raw":-6,"lp":-3},{"t":84780,"raw":10,"lp":8},{"t":84870,"raw":-5,"lp":-3},{"t":84960,"raw":13,"lp":10},{"t":85050,"raw":-3,"lp":-1},{"t":85140,"raw":12,"lp":9},{"t":85230,"raw":-4,"lp":-2},{"t":85320,"raw":7,"lp":6},{"t":85410,"raw":-7,"lp":-4},{"t":85500,"raw":11,"lp":9},{"t":85590,"raw":-6,"lp":-3},{"t":85680,"raw":9,"lp":7},{"t":85770,"raw":-8,"lp":-4},{"t":85860,"raw":10,"lp":8},{"t":85950,"raw":-10,"lp":-1},{"t":86040,"raw":16,"lp":9},{"t":86130,"raw":-5,"lp":-3},{"t":86220,"raw":13,"lp":10},{"t":86310,"raw":-6,"lp":-2},
{"t":86400,"raw":4,"lp":3}
    ]
  },
  "layer": [
    {
      "data": {"name": "grav"},
      "mark": {"type": "line", "strokeWidth": 1.3},
      "encoding": {
        "x": {
          "field": "t",
          "type": "quantitative",
          "scale": {"domain": [0, 86400], "nice": false, "zero": false},
          "axis": {
            "orient": "bottom",
            "title": "Time [s]",
            "values": [0, 10000, 20000, 30000, 40000, 50000, 60000, 70000, 80000],
            "format": "d",
            "labelExpr": "datum.value % 20000 === 0 ? datum.label : ''",
            "tickSize": {"condition": {"test": "datum.value % 20000 === 0", "value": 8}, "value": 4},
            "labelPadding": 4,
            "labelFlush": false,
            "titlePadding": 18
          }
        },
        "y": {
          "field": "raw",
          "type": "quantitative",
          "scale": {"domain": [-120, 120], "nice": false},
          "axis": {
            "orient": "left",
            "title": "Signal [nm/s²]",
            "values": [-120, -110, -100, -90, -80, -70, -60, -50, -40, -30, -20, -10, 0, 10, 20, 30, 40, 50, 60, 70, 80, 90, 100, 110, 120],
            "labelExpr": "datum.value % 40 === 0 ? datum.label : ''",
            "tickSize": {"condition": {"test": "datum.value % 40 === 0", "value": 8}, "value": 4},
            "labelPadding": 6,
            "labelFontSize": 17,
            "titleFontSize": 19.5,
            "titlePadding": 17
          }
        },
        "color": {
          "datum": "GRAV ___BRES",
          "type": "nominal",
          "scale": {"domain": ["GRAV ___BRES.low−pass", "GRAV ___BRES"], "range": ["#c8c800", "#000000"]},
          "legend": {
            "orient": "none",
            "legendX": 13,
            "legendY": 12,
            "title": null,
            "symbolType": "M-2.5,0H2.5",
            "symbolSize": 324,
            "symbolStrokeWidth": 2.5,
            "labelFont": "Liberation Sans",
            "labelFontSize": 17,
            "labelLimit": 400,
            "labelColor": "#000000",
            "fillColor": "white",
            "strokeColor": "#999999",
            "padding": 6,
            "symbolOffset": 35,
            "labelOffset": 27,
            "rowPadding": 4
          }
        }
      }
    },
    {
      "data": {"name": "grav"},
      "mark": {"type": "line", "strokeWidth": 1.7},
      "encoding": {
        "x": {
          "field": "t",
          "type": "quantitative",
          "scale": {"domain": [0, 86400], "nice": false, "zero": false},
          "axis": {
            "orient": "top",
            "title": null,
            "values": [0, 3600, 7200, 10800, 14400, 18000, 21600, 25200, 28800, 32400, 36000, 39600, 43200, 46800, 50400, 54000, 57600, 61200, 64800, 68400, 72000, 75600, 79200, 82800, 86400],
            "labelExpr": "datum.value % 10800 === 0 ? ((floor(datum.value / 3600) % 24 < 10 ? '0' : '') + (floor(datum.value / 3600) % 24) + ':00') : ''",
            "tickSize": {"condition": {"test": "datum.value % 10800 === 0", "value": 8}, "value": 4},
            "labelAngle": -30,
            "labelAlign": "left",
            "labelBaseline": "middle",
            "labelPadding": 6,
            "labelOverlap": false,
            "labelBound": false,
            "labelFlush": false
          }
        },
        "y": {
          "field": "lp",
          "type": "quantitative",
          "scale": {"domain": [-120, 120], "nice": false},
          "axis": {
            "orient": "right",
            "title": null,
            "labels": false,
            "values": [-120, -110, -100, -90, -80, -70, -60, -50, -40, -30, -20, -10, 0, 10, 20, 30, 40, 50, 60, 70, 80, 90, 100, 110, 120],
            "tickSize": {"condition": {"test": "datum.value % 40 === 0", "value": 8}, "value": 4}
          }
        },
        "color": {"datum": "GRAV ___BRES.low−pass", "type": "nominal"}
      }
    },
    {
      "data": {"values": [{}]},
      "mark": {"type": "text", "text": "Start time 2026−07−27 00:00:00", "align": "left", "baseline": "middle", "fontSize": 19, "font": "Liberation Sans", "color": "#000000"},
      "encoding": {
        "x": {"datum": 30600, "type": "quantitative", "axis": null},
        "y": {"datum": 109.5, "type": "quantitative", "axis": null}
      }
    }
  ],
  "resolve": {"axis": {"x": "independent", "y": "independent"}}
}
